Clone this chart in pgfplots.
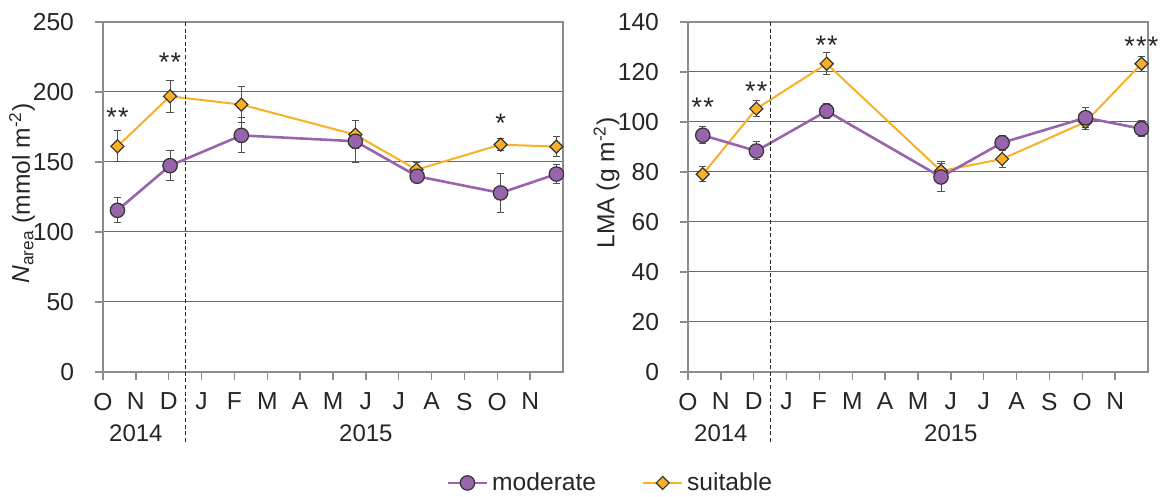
\documentclass[border=0pt]{standalone}
\usepackage{pgfplots}
\usepackage{pgfplotstable}
\pgfplotsset{compat=1.18}
\usepackage{fontspec}
\setmainfont{Liberation Sans}
\definecolor{mpurple}{RGB}{152,100,172}
\definecolor{morange}{RGB}{250,176,36}
\definecolor{gridc}{RGB}{105,105,105}
\definecolor{axc}{RGB}{140,140,140}
\definecolor{txt}{RGB}{38,38,38}
\definecolor{errc}{RGB}{80,80,80}

\pgfplotstableread{
x y e
0.44 161.2 11
2.04 196.9 11.5
4.21 191 13
7.68 169.5 10
9.54 144.5 5
12.1 162.4 4.5
13.8 161 7
}\leftsuit
\pgfplotstableread{
x y e
0.44 115.5 9
2.04 147.4 10.5
4.21 169 12.5
7.68 164.8 15
9.56 139.8 4
12.1 127.9 14
13.8 141.4 7
}\leftmod
\pgfplotstableread{
x y e
0.45 79.1 3
2.08 105.3 3.3
4.22 123.3 4.5
7.70 80.4 3
9.56 85.2 3.5
12.1 100 3
13.8 123.3 3
}\rightsuit
\pgfplotstableread{
x y e
0.45 94.7 3.5
2.08 88.4 3.6
4.22 104.4 3
7.70 78 6
9.56 91.7 3
12.1 101.7 4
13.8 97.3 3.3
}\rightmod

\pgfplotsset{
  myaxis/.style={
    scale only axis, width=230pt, height=175pt,
    xmin=0, xmax=14, ymin=0,
    xtick={0,...,13},
    xticklabels={O,N,D,J,F,M,A,M,J,J,A,S,O,N},
    tick pos=left, tick align=outside, major tick length=4pt,
    axis line style={axc, line width=0.7pt},
    tick style={axc, line width=0.7pt},
    ymajorgrids, grid style={gridc, line width=0.5pt},
    /pgf/number format/assume math mode=true,
    ticklabel style={font=\fontsize{12.3}{14}\selectfont, text=txt},
    yticklabel shift=7pt,
    xticklabel shift=3pt,
    label style={font=\fontsize{12.3}{14}\selectfont, text=txt},
    clip=false,
  },
  suitst/.style={morange, line width=1pt, mark=square*, mark size=2.3pt,
    mark options={fill=morange, draw=black!80, line width=0.6pt, solid, rotate=45}},
  modst/.style={mpurple, line width=1.3pt, mark=*, mark size=3.6pt,
    mark options={fill=mpurple, draw=black!80, line width=0.6pt, solid}},
  errst/.style={error bars/.cd, y dir=both, y explicit,
    error bar style={errc, line width=0.5pt},
    error mark=|, error mark options={mark size=1.8pt, errc, line width=0.5pt, rotate=0}},
}
\newcommand{\stars}[2]{\node[font=\fontsize{13.5}{15}\selectfont, text=txt, anchor=base, yshift=-7.4pt] at (#1) {#2};}

\begin{document}
\begin{tikzpicture}
\path[use as bounding box] (0,0) rectangle (581pt,248.5pt);
\begin{axis}[myaxis, at={(51.5pt,62.5pt)}, anchor=south west,
  ymax=250, ytick={0,50,...,250},
  ylabel={{\itshape N}\textsubscript{area} (mmol m\textsuperscript{-2})},
  ylabel style={at={(axis description cs:-0.176,0.51)}, anchor=center},
  legend columns=2,
  legend style={at={(axis description cs:1.105,-0.317)}, anchor=center, draw=none, fill=none,
    font=\fontsize{12.3}{14}\selectfont, text=txt,
    /tikz/every even column/.append style={column sep=21pt}},
  legend image code/.code={\draw[mark repeat=2, mark phase=2, #1] plot coordinates {(0pt,0pt) (9.75pt,0pt) (19.5pt,0pt)};},
]
\addlegendimage{modst}\addlegendentry{moderate}
\addlegendimage{suitst}\addlegendentry{suitable}
\addplot[suitst, forget plot, errst] table[x=x, y=y, y error=e] {\leftsuit};
\addplot[modst, forget plot, errst] table[x=x, y=y, y error=e] {\leftmod};
\draw[black!85, line width=0.6pt, dash pattern=on 2pt off 1.3pt] (axis cs:2.5,250) -- ([yshift=-35pt]axis cs:2.5,0);
\node[font=\fontsize{12}{14}\selectfont, text=txt] at ([yshift=-30.75pt]axis cs:1,0) {2014};
\node[font=\fontsize{12}{14}\selectfont, text=txt] at ([yshift=-30.75pt]axis cs:8,0) {2015};
\stars{axis cs:0.44,185.7}{*\kern0.6pt*}
\stars{axis cs:2.04,225.5}{*\kern0.6pt*}
\stars{axis cs:12.1,181.4}{*}
\end{axis}
\begin{axis}[myaxis, at={(344pt,62.5pt)}, anchor=south west,
  ymax=140, ytick={0,20,...,140},
  ylabel={LMA (g m\textsuperscript{-2})},
  ylabel style={at={(axis description cs:-0.177,0.54)}, anchor=center},
]
\addplot[suitst, errst] table[x=x, y=y, y error=e] {\rightsuit};
\addplot[modst, errst] table[x=x, y=y, y error=e] {\rightmod};
\draw[black!85, line width=0.6pt, dash pattern=on 2pt off 1.3pt] (axis cs:2.5,140) -- ([yshift=-35pt]axis cs:2.5,0);
\node[font=\fontsize{12}{14}\selectfont, text=txt] at ([yshift=-30.75pt]axis cs:1,0) {2014};
\node[font=\fontsize{12}{14}\selectfont, text=txt] at ([yshift=-30.75pt]axis cs:8,0) {2015};
\stars{axis cs:0.45,108}{*\kern0.6pt*}
\stars{axis cs:2.08,114.4}{*\kern0.6pt*}
\stars{axis cs:4.22,133}{*\kern0.6pt*}
\stars{axis cs:13.8,132.7}{*\kern0.6pt*\kern0.6pt*}
\end{axis}
\end{tikzpicture}
\end{document}
